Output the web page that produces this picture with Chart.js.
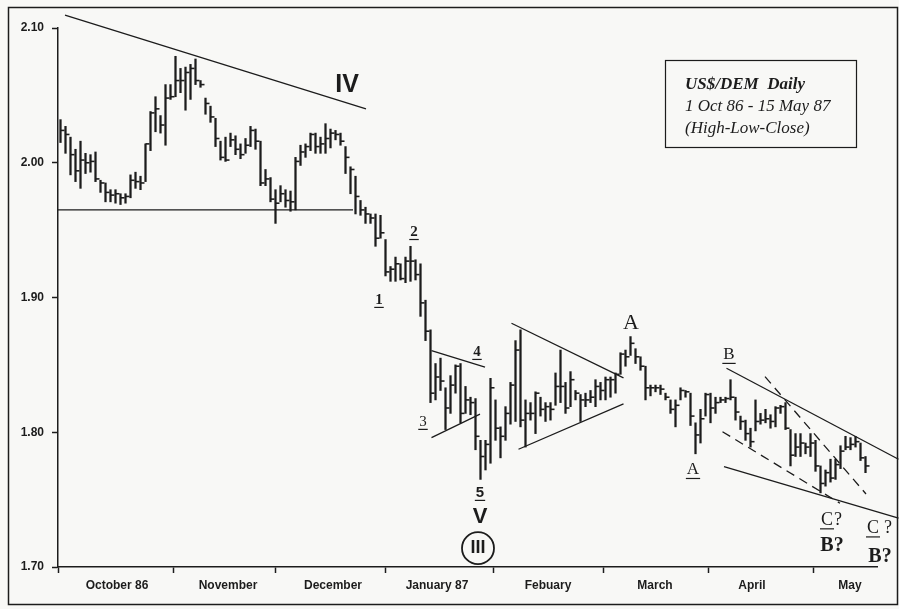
<!DOCTYPE html>
<html>
<head>
<meta charset="utf-8">
<script src="https://cdn.jsdelivr.net/npm/chart.js@4.4.1/dist/chart.umd.min.js"></script>
<style>
  html, body { margin: 0; padding: 0; background: #f8f8f6; }
</style>
</head>
<body>
<canvas id="chart" width="899" height="609"></canvas>
<script>
// US$/DEM daily, 1 Oct 86 - 15 May 87, one entry per trading day
const highs = [
  2.032, 2.027, 2.019, 2.010, 2.016, 2.007, 2.006, 2.008, 1.987, 1.985,
  1.980, 1.980, 1.977, 1.977, 1.991, 1.993, 1.990, 2.014, 2.038, 2.049,
  2.035, 2.058, 2.058, 2.079, 2.070, 2.071, 2.073, 2.077, 2.061, 2.048,
  2.042, 2.033, 2.016, 2.019, 2.022, 2.020, 2.014, 2.018, 2.027, 2.025,
  2.016, 1.995, 1.989, 1.980, 1.983, 1.980, 1.979, 2.004, 2.013, 2.014,
  2.022, 2.022, 2.019, 2.029, 2.025, 2.024, 2.022, 2.012, 1.997, 1.990,
  1.972, 1.967, 1.962, 1.962, 1.961, 1.943, 1.923, 1.930, 1.925, 1.930,
  1.938, 1.928, 1.925, 1.898, 1.876, 1.851, 1.855, 1.833, 1.842, 1.850,
  1.851, 1.834, 1.826, 1.825, 1.794, 1.794, 1.840, 1.824, 1.804, 1.819,
  1.837, 1.868, 1.876, 1.824, 1.822, 1.830, 1.826, 1.822, 1.822, 1.844,
  1.861, 1.837, 1.845, 1.831, 1.828, 1.829, 1.831, 1.839, 1.837, 1.841,
  1.841, 1.844, 1.859, 1.861, 1.871, 1.862, 1.856, 1.849, 1.835, 1.835,
  1.835, 1.829, 1.824, 1.824, 1.833, 1.831, 1.829, 1.807, 1.817, 1.829,
  1.829, 1.826, 1.826, 1.826, 1.839, 1.826, 1.812, 1.809, 1.803, 1.824,
  1.814, 1.817, 1.813, 1.819, 1.820, 1.822, 1.802, 1.799, 1.799, 1.792,
  1.799, 1.794, 1.775, 1.772, 1.780, 1.780, 1.790, 1.797, 1.796, 1.797,
  1.792, 1.782
]
const lows = [
  2.015, 2.007, 1.991, 1.986, 1.981, 1.992, 1.993, 1.986, 1.978, 1.971,
  1.971, 1.970, 1.969, 1.970, 1.974, 1.981, 1.980, 1.986, 2.009, 2.023,
  2.022, 2.013, 2.047, 2.049, 2.052, 2.039, 2.047, 2.058, 2.056, 2.036,
  2.030, 2.012, 2.002, 2.001, 2.012, 2.006, 2.003, 2.007, 2.012, 2.010,
  1.983, 1.983, 1.971, 1.955, 1.971, 1.967, 1.964, 1.965, 1.998, 2.004,
  2.009, 2.007, 2.007, 2.007, 2.011, 2.017, 2.013, 1.992, 1.977, 1.962,
  1.961, 1.955, 1.955, 1.938, 1.944, 1.916, 1.912, 1.912, 1.913, 1.911,
  1.912, 1.913, 1.886, 1.868, 1.822, 1.824, 1.831, 1.802, 1.814, 1.829,
  1.807, 1.814, 1.813, 1.787, 1.765, 1.772, 1.777, 1.794, 1.781, 1.794,
  1.806, 1.808, 1.804, 1.789, 1.809, 1.799, 1.812, 1.808, 1.809, 1.820,
  1.822, 1.814, 1.819, 1.824, 1.808, 1.819, 1.822, 1.819, 1.824, 1.824,
  1.826, 1.829, 1.843, 1.849, 1.857, 1.851, 1.846, 1.824, 1.827, 1.830,
  1.828, 1.824, 1.814, 1.804, 1.824, 1.826, 1.805, 1.784, 1.792, 1.812,
  1.807, 1.814, 1.822, 1.822, 1.824, 1.809, 1.802, 1.794, 1.789, 1.801,
  1.806, 1.807, 1.803, 1.804, 1.814, 1.802, 1.775, 1.782, 1.782, 1.784,
  1.782, 1.771, 1.755, 1.760, 1.763, 1.765, 1.773, 1.787, 1.787, 1.789,
  1.779, 1.770
]
const closes = [
  2.024, 2.021, 2.006, 1.994, 2.002, 2.000, 2.001, 1.988, 1.985, 1.978,
  1.976, 1.977, 1.974, 1.975, 1.987, 1.986, 1.985, 2.014, 2.037, 2.040,
  2.028, 2.048, 2.049, 2.061, 2.061, 2.067, 2.070, 2.061, 2.058, 2.044,
  2.034, 2.018, 2.004, 2.002, 2.017, 2.010, 2.006, 2.013, 2.024, 2.016,
  1.985, 1.988, 1.973, 1.970, 1.977, 1.972, 1.971, 2.001, 2.008, 2.012,
  2.021, 2.012, 2.014, 2.018, 2.022, 2.021, 2.016, 2.004, 1.995, 1.975,
  1.965, 1.962, 1.959, 1.944, 1.948, 1.919, 1.921, 1.925, 1.914, 1.927,
  1.927, 1.917, 1.896, 1.875, 1.829, 1.841, 1.838, 1.818, 1.835, 1.849,
  1.814, 1.824, 1.822, 1.797, 1.782, 1.791, 1.833, 1.803, 1.797, 1.814,
  1.835, 1.861, 1.809, 1.814, 1.814, 1.829, 1.817, 1.819, 1.817, 1.834,
  1.834, 1.818, 1.839, 1.829, 1.824, 1.824, 1.826, 1.834, 1.831, 1.839,
  1.839, 1.843, 1.858, 1.856, 1.866, 1.856, 1.849, 1.833, 1.833, 1.833,
  1.832, 1.826, 1.817, 1.820, 1.831, 1.830, 1.812, 1.798, 1.810, 1.828,
  1.818, 1.822, 1.824, 1.825, 1.826, 1.815, 1.808, 1.799, 1.793, 1.808,
  1.809, 1.810, 1.808, 1.818, 1.819, 1.803, 1.783, 1.789, 1.792, 1.789,
  1.792, 1.775, 1.762, 1.770, 1.766, 1.776, 1.786, 1.789, 1.791, 1.793,
  1.781, 1.775
]

// x axis is in trading days; month boundaries and label centres
const monthStarts = [-0.5, 22.5, 43, 65, 86.5, 108.5, 129.5, 150.5]
const monthLabels = ['October 86', 'November', 'December', 'January 87', 'Febuary', 'March', 'April', 'May']
const monthLabelPos = [11.3, 33.5, 54.5, 75.3, 97.5, 118.9, 138.3, 157.9]
const yTicks = [1.70, 1.80, 1.90, 2.00, 2.10]

// trend lines drawn on the chart: [day1, price1, day2, price2]
const trendLines = [
  { p: [0.9, 2.1096, 61.1, 2.040] },
  { p: [-0.5, 1.965, 58.5, 1.965] },
  { p: [74.2, 1.8606, 84.9, 1.8483] },
  { p: [74.2, 1.796, 83.9, 1.8134] },
  { p: [90.2, 1.8809, 112.6, 1.8404] },
  { p: [91.6, 1.7874, 112.6, 1.821] },
  { p: [133.2, 1.8475, 167.6, 1.780] },
  { p: [132.7, 1.7745, 167.6, 1.7362] },
  { p: [132.4, 1.8004, 155.9, 1.7473], dash: true },
  { p: [140.9, 1.8413, 161.1, 1.7542], dash: true }
]

const ink = '#1c1c1c'
const sans = '"Liberation Sans", Arial, sans-serif'
const narrow = '"Liberation Sans Narrow", "Liberation Sans", Arial, sans-serif'
const serif = '"Liberation Serif", "Times New Roman", serif'

// wave count labels, in data coordinates
const waveLabels = [
  { text: 'IV', x: 57.3, y: 2.0575, font: 'bold 25px ' + narrow },
  { text: '2', x: 70.7, y: 1.9486, font: 'bold 15px ' + serif, under: true },
  { text: '1', x: 63.7, y: 1.8982, font: 'bold 15px ' + serif, under: true },
  { text: '3', x: 72.5, y: 1.8077, font: '15px ' + serif, under: true },
  { text: '4', x: 83.3, y: 1.8596, font: 'bold 15px ' + serif, under: true },
  { text: '5', x: 83.9, y: 1.7550, font: 'bold 15px ' + sans, under: true },
  { text: 'V', x: 83.9, y: 1.7370, font: 'bold 22px ' + sans },
  { text: 'III', x: 83.5, y: 1.7140, font: 'bold 18px ' + narrow, circle: true },
  { text: 'A', x: 114.1, y: 1.8810, font: '22px ' + serif },
  { text: 'B', x: 133.7, y: 1.8574, font: '17px ' + serif, under: true },
  { text: 'A', x: 126.5, y: 1.7720, font: '17px ' + serif, under: true },
  { text: 'C', x: 153.3, y: 1.7350, font: '18px ' + serif, under: true },
  { text: '?', x: 155.5, y: 1.7350, font: '18px ' + serif },
  { text: 'B?', x: 154.3, y: 1.7160, font: 'bold 20px ' + serif },
  { text: 'C', x: 162.5, y: 1.7290, font: '18px ' + serif, under: true },
  { text: '?', x: 165.5, y: 1.7290, font: '18px ' + serif },
  { text: 'B?', x: 163.9, y: 1.7075, font: 'bold 20px ' + serif }
]

const overlay = {
  id: 'overlay',
  beforeDraw(chart) {
    const c = chart.ctx
    c.save()
    c.fillStyle = '#f8f8f6'
    c.fillRect(0, 0, chart.width, chart.height)
    c.restore()
  },
  afterDraw(chart) {
    const c = chart.ctx
    const xs = chart.scales.x
    const ys = chart.scales.y
    c.save()
    c.fillStyle = ink
    c.strokeStyle = ink
    c.textAlign = 'center'
    c.textBaseline = 'middle'

    waveLabels.forEach(l => {
      const px = xs.getPixelForValue(l.x)
      const py = ys.getPixelForValue(l.y)
      c.font = l.font
      c.fillText(l.text, px, py)
      const w = c.measureText(l.text).width
      if (l.under) {
        const size = parseFloat(l.font.match(/(\d+)px/)[1])
        c.lineWidth = 1.2
        c.beginPath()
        c.moveTo(px - w / 2 - 1, py + size * 0.5)
        c.lineTo(px + w / 2 + 1, py + size * 0.5)
        c.stroke()
      }
      if (l.circle) {
        c.lineWidth = 1.8
        c.beginPath()
        c.arc(px, py, 16, 0, Math.PI * 2)
        c.stroke()
      }
    })

    // title box
    c.lineWidth = 1.2
    c.strokeRect(665.5, 60.5, 191, 87)
    c.textAlign = 'left'
    c.font = 'italic bold 17px ' + serif
    c.fillText('US$/DEM  Daily', 685, 85)
    c.font = 'italic 17px ' + serif
    c.fillText('1 Oct 86 - 15 May 87', 685, 107)
    c.fillText('(High-Low-Close)', 685, 129)

    // page frame
    c.lineWidth = 1.5
    c.strokeRect(8.5, 7.5, 889, 597)
    c.restore()
  }
}

new Chart(document.getElementById('chart'), {
  type: 'bar',
  data: {
    datasets: [
      {
        type: 'bar',
        data: highs.map((h, i) => ({ x: i, y: [lows[i], h] })),
        backgroundColor: ink,
        barThickness: 1.6,
        grouped: false
      },
      {
        type: 'scatter',
        data: closes.map((v, i) => ({ x: i + 0.4, y: v })),
        pointStyle: 'line',
        pointRadius: 2,
        borderColor: ink,
        borderWidth: 1.6
      },
      ...trendLines.map(t => ({
        type: 'line',
        data: [{ x: t.p[0], y: t.p[1] }, { x: t.p[2], y: t.p[3] }],
        borderColor: ink,
        borderWidth: 1.3,
        borderDash: t.dash ? [9, 6] : [],
        pointRadius: 0,
        clip: false
      }))
    ]
  },
  options: {
    responsive: false,
    animation: false,
    events: [],
    layout: { padding: { top: 28, right: 22, left: 0, bottom: 0 } },
    plugins: {
      legend: { display: false },
      tooltip: { enabled: false }
    },
    scales: {
      x: {
        type: 'linear',
        min: -0.5,
        max: 163.3,
        offset: false,
        position: 'bottom',
        border: { display: true, color: ink, width: 1.5 },
        grid: { offset: false, drawOnChartArea: false, tickLength: 6, tickColor: ink, tickWidth: 1.5 },
        ticks: { autoSkip: false, maxRotation: 0, padding: 0, callback: () => '' },
        afterBuildTicks: s => { s.ticks = monthStarts.map(v => ({ value: v })) },
        afterFit: s => { s.height = 6 }
      },
      x2: {
        type: 'linear',
        min: -0.5,
        max: 163.3,
        offset: false,
        position: 'bottom',
        weight: 1,
        border: { display: false },
        grid: { offset: false, display: false, drawTicks: false },
        ticks: {
          autoSkip: false,
          maxRotation: 0,
          padding: 5,
          color: ink,
          font: { family: sans, size: 12, weight: 'bold' },
          callback: (v, i) => monthLabels[i]
        },
        afterBuildTicks: s => { s.ticks = monthLabelPos.map(v => ({ value: v })) },
        afterFit: s => { s.height = 36 }
      },
      y: {
        min: 1.70,
        max: 2.10,
        position: 'left',
        border: { display: true, color: ink, width: 1.5 },
        grid: { drawOnChartArea: false, tickLength: 6, tickColor: ink, tickWidth: 1.5 },
        ticks: {
          padding: 8,
          color: ink,
          font: { family: sans, size: 12, weight: 'bold' },
          callback: v => v.toFixed(2)
        },
        afterBuildTicks: s => { s.ticks = yTicks.map(v => ({ value: v })) },
        afterFit: s => { s.width = 58 }
      }
    }
  },
  plugins: [overlay]
})
</script>
</body>
</html>
